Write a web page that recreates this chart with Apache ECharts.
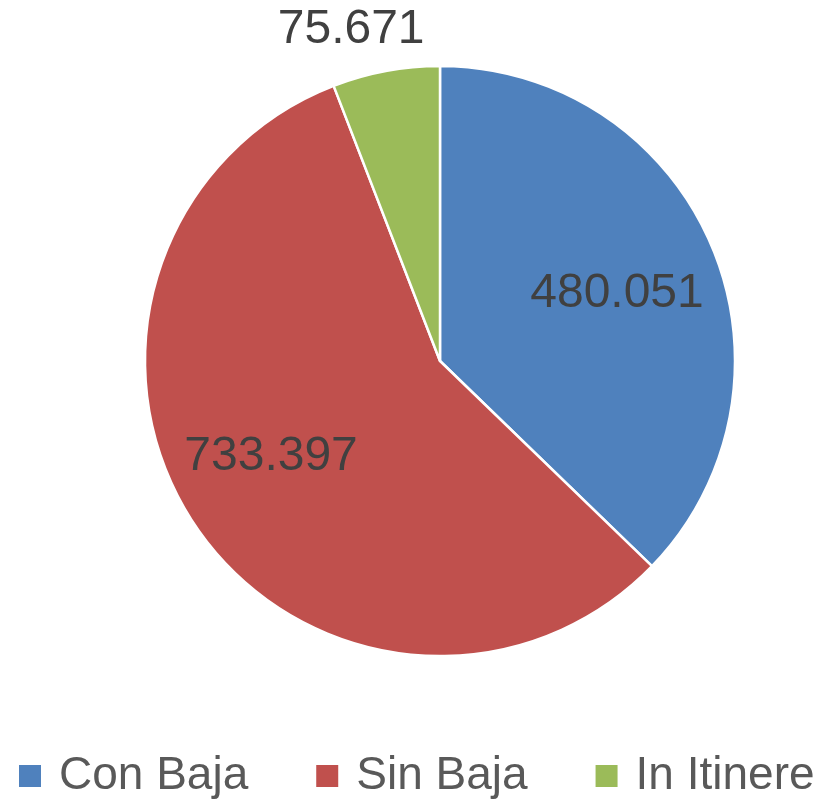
<!DOCTYPE html>
<html>
<head>
<meta charset="utf-8">
<script src="https://cdn.jsdelivr.net/npm/echarts@6/dist/echarts.min.js"></script>
<style>
  html, body { margin: 0; padding: 0; background: #fff; }
  #chart { width: 838px; height: 800px; }
</style>
</head>
<body>
<div id="chart"></div>
<script>
// datos del gráfico
const categorias = ['Con Baja', 'Sin Baja', 'In Itinere'];
const valores = [480.051, 733.397, 75.671];
const colores = ['#4F81BD', '#C0504D', '#9BBB59'];

const fmt = v => v.toFixed(3);

const chart = echarts.init(document.getElementById('chart'));

const datosPie = categorias.map((c, i) => ({
    name: c,
    value: valores[i],
    itemStyle: { color: colores[i] }
}));

// desplazamientos de etiqueta (al estilo de Excel)
const desplazEtiquetas = [[-3, 9], [-6, -12], [-53, -139]];

// serie transparente solo para las etiquetas (anillo interior => etiquetas más afuera)
const datosEtiquetas = categorias.map((c, i) => ({
    name: c,
    value: valores[i],
    label: { offset: desplazEtiquetas[i] }
}));

chart.setOption({
    animation: false,
    legend: {
        data: categorias,
        left: 17,
        width: 821,
        top: 753,
        padding: 0,
        itemWidth: 24,
        itemHeight: 24,
        itemGap: 66,
        icon: 'rect',
        textStyle: {
            fontFamily: '"Liberation Sans", Arial, sans-serif',
            fontSize: 46,
            color: '#595959',
            padding: [0, 0, 0, 12]
        }
    },
    series: [
        {
            type: 'pie',
            center: [440, 361],
            radius: [0, 295],
            startAngle: 90,
            clockwise: true,
            silent: true,
            label: { show: false },
            labelLine: { show: false },
            itemStyle: { borderColor: '#fff', borderWidth: 2.5 },
            data: datosPie
        },
        {
            type: 'pie',
            center: [440, 361],
            radius: [90, 295],
            startAngle: 90,
            clockwise: true,
            silent: true,
            itemStyle: { color: 'transparent' },
            label: {
                show: true,
                position: 'inside',
                formatter: p => fmt(p.value),
                fontFamily: '"Liberation Sans", Arial, sans-serif',
                fontSize: 48,
                color: '#404040'
            },
            labelLine: { show: false },
            data: datosEtiquetas
        }
    ]
});
</script>
</body>
</html>
